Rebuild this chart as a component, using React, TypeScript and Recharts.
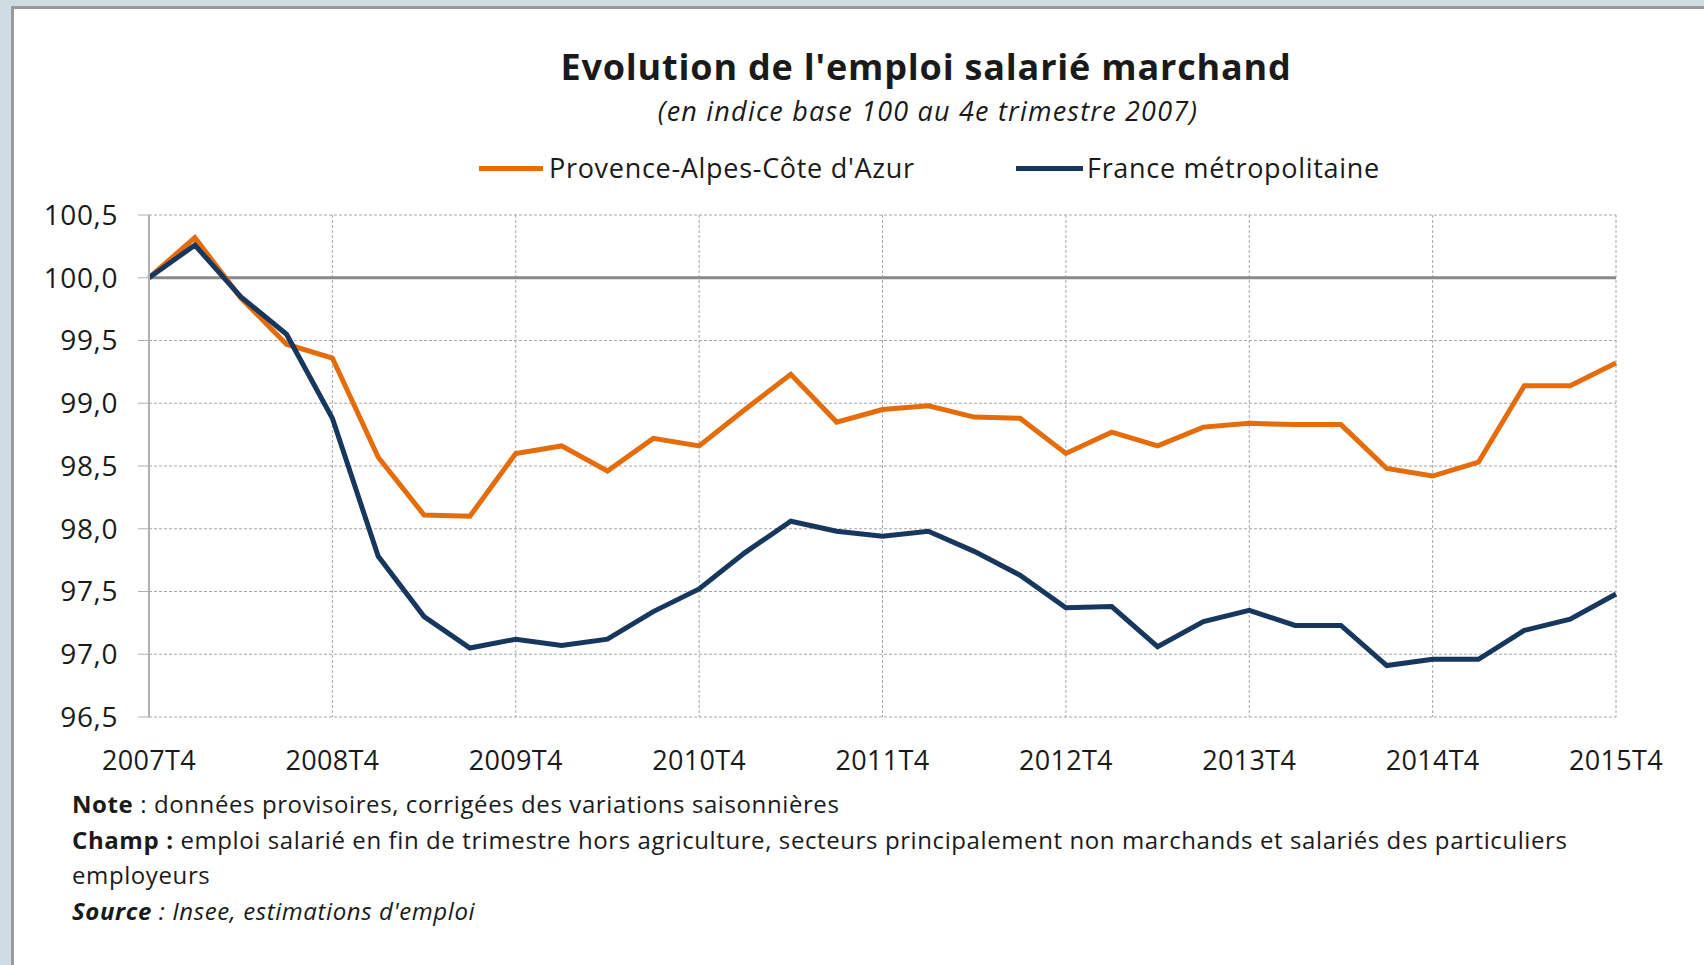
import { LineChart, Line, XAxis, YAxis, CartesianGrid, ReferenceLine } from "recharts"

const QUARTERS = [
  "2007T4",
  "2008T1", "2008T2", "2008T3", "2008T4",
  "2009T1", "2009T2", "2009T3", "2009T4",
  "2010T1", "2010T2", "2010T3", "2010T4",
  "2011T1", "2011T2", "2011T3", "2011T4",
  "2012T1", "2012T2", "2012T3", "2012T4",
  "2013T1", "2013T2", "2013T3", "2013T4",
  "2014T1", "2014T2", "2014T3", "2014T4",
  "2015T1", "2015T2", "2015T3", "2015T4",
]

const PACA = [
  100.0, 100.32, 99.84, 99.47, 99.36, 98.57, 98.11, 98.1, 98.6, 98.66, 98.46, 98.72, 98.66, 98.95, 99.23, 98.85,
  98.95, 98.98, 98.89, 98.88, 98.6, 98.77, 98.66, 98.81, 98.84, 98.83, 98.83, 98.48, 98.42, 98.53, 99.14, 99.14,
  99.32,
]

const FRANCE = [
  100.0, 100.26, 99.85, 99.55, 98.88, 97.78, 97.3, 97.05, 97.12, 97.07, 97.12, 97.34, 97.52, 97.81, 98.06, 97.98,
  97.94, 97.98, 97.82, 97.63, 97.37, 97.38, 97.06, 97.26, 97.35, 97.23, 97.23, 96.91, 96.96, 96.96, 97.19, 97.28,
  97.48,
]

const X_TICKS = ["2007T4", "2008T4", "2009T4", "2010T4", "2011T4", "2012T4", "2013T4", "2014T4", "2015T4"]
const Y_TICKS = [96.5, 97, 97.5, 98, 98.5, 99, 99.5, 100, 100.5]

const ORANGE = "#E46C0A"
const NAVY = "#17375E"
const FONT = "'Open Sans', sans-serif"

const data = QUARTERS.map((q, i) => ({ q, paca: PACA[i], france: FRANCE[i] }))

const fmt = (v: number) => v.toFixed(1).replace(".", ",")

export default function App() {
  return (
    <div
      style={{
        position: "absolute",
        left: 0,
        top: 0,
        width: 1704,
        height: 965,
        background: "#cddde3",
        fontFamily: FONT,
        color: "#1a1a1a",
        overflow: "hidden",
      }}
    >
      <div
        style={{
          position: "absolute",
          left: 11,
          top: 6,
          right: 0,
          bottom: 0,
          background: "#fff",
          borderLeft: "3px solid #9a9a9a",
          borderTop: "3px solid #9a9a9a",
        }}
      />

      <div style={{ position: "absolute", left: 0, width: 1852, top: 42, textAlign: "center", fontSize: 36, fontWeight: 700, letterSpacing: 0.8, lineHeight: "50px" }}>
        Evolution de l'emploi salarié marchand
      </div>
      <div style={{ position: "absolute", left: 0, width: 1856, top: 93, textAlign: "center", fontSize: 27, fontStyle: "italic", letterSpacing: 1.2, lineHeight: "36px" }}>
        (en indice base 100 au 4e trimestre 2007)
      </div>

      {/* legend */}
      <div style={{ position: "absolute", left: 479, top: 166, width: 64, height: 5, background: ORANGE }} />
      <div style={{ position: "absolute", left: 549, top: 149, fontSize: 27, letterSpacing: 0.7, lineHeight: "38px" }}>Provence-Alpes-Côte d'Azur</div>
      <div style={{ position: "absolute", left: 1016, top: 166, width: 67, height: 5, background: NAVY }} />
      <div style={{ position: "absolute", left: 1087, top: 149, fontSize: 27, letterSpacing: 0.7, lineHeight: "38px" }}>France métropolitaine</div>

      <div style={{ position: "absolute", left: 0, top: 0 }}>
        <LineChart width={1704} height={965} data={data} margin={{ top: 215, right: 88, bottom: 208, left: 0 }}>
          <CartesianGrid stroke="#a6a6a6" strokeDasharray="3 2" />
          <XAxis
            dataKey="q"
            ticks={X_TICKS}
            interval={0}
            axisLine={false}
            tickLine={false}
            tickSize={0}
            tickMargin={34}
            height={40}
            tick={{ fill: "#1a1a1a", fontSize: 27, fontFamily: FONT, letterSpacing: 0.3 }}
          />
          <YAxis
            domain={[96.5, 100.5]}
            ticks={Y_TICKS}
            interval={0}
            width={149}
            tickFormatter={fmt}
            axisLine={{ stroke: "#b0b0b0", strokeWidth: 2 }}
            tickLine={{ stroke: "#b0b0b0" }}
            tickSize={11}
            tickMargin={20}
            tick={{ fill: "#1a1a1a", fontSize: 28, fontFamily: FONT, letterSpacing: 0.6 }}
          />
          <ReferenceLine y={100} stroke="#8a8a8a" strokeWidth={3} />
          <Line type="linear" dataKey="paca" stroke={ORANGE} strokeWidth={5} dot={false} isAnimationActive={false} />
          <Line type="linear" dataKey="france" stroke={NAVY} strokeWidth={5} dot={false} isAnimationActive={false} />
        </LineChart>
      </div>

      {/* notes */}
      <div style={{ position: "absolute", left: 72, top: 786, fontSize: 24, letterSpacing: 0.6, lineHeight: "35.6px" }}>
        <div>
          <b>Note</b> : données provisoires, corrigées des variations saisonnières
        </div>
        <div>
          <b>Champ :</b> emploi salarié en fin de trimestre hors agriculture, secteurs principalement non marchands et salariés des particuliers
        </div>
        <div>employeurs</div>
        <div style={{ fontStyle: "italic" }}>
          <b>Source</b> : Insee, estimations d'emploi
        </div>
      </div>
    </div>
  )
}
